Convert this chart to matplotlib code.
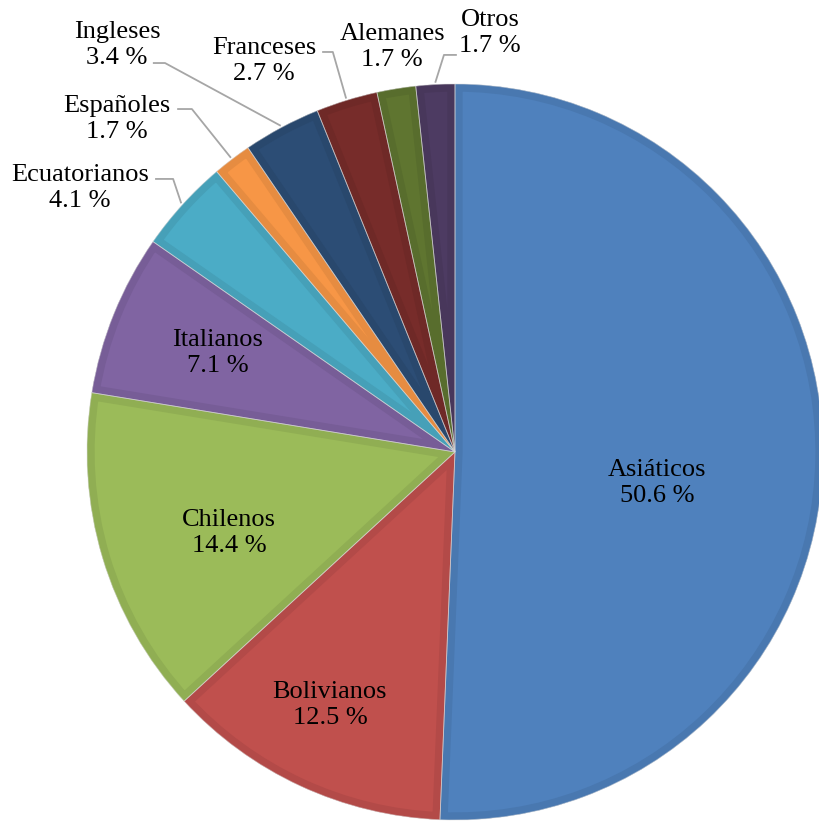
import matplotlib
matplotlib.use("Agg")
import matplotlib.pyplot as plt
from matplotlib.patches import Wedge
import matplotlib.colors as mcolors
import numpy as np

plt.rcParams["font.family"] = "serif"
plt.rcParams["font.serif"] = ["Liberation Serif", "DejaVu Serif"]

categories = ["Asiáticos", "Bolivianos", "Chilenos", "Italianos", "Ecuatorianos",
              "Españoles", "Ingleses", "Franceses", "Alemanes", "Otros"]
values = [50.6, 12.5, 14.4, 7.1, 4.1, 1.7, 3.4, 2.7, 1.7, 1.7]
colors = ["#4F81BD", "#C0504D", "#9BBB59", "#8064A2", "#4BACC6",
          "#F79646", "#2C4D75", "#772C2A", "#5F7530", "#4D3B62"]

# label positions (data units, pie radius = 1)
label_pos = {
    "Asiáticos": (0.549, -0.084),
    "Bolivianos": (-0.340, -0.688),
    "Chilenos": (-0.614, -0.220),
    "Italianos": (-0.644, 0.269),
    "Ecuatorianos": (-1.019, 0.718),
    "Españoles": (-0.918, 0.905),
    "Ingleses": (-0.918, 1.105),
    "Franceses": (-0.519, 1.062),
    "Alemanes": (-0.171, 1.100),
    "Otros": (0.095, 1.138),
}
# leader lines: start beside text, elbow, end on slice edge (computed)
leaders = {
    "Ecuatorianos": [(-0.815, 0.742), (-0.766, 0.742)],
    "Españoles": [(-0.755, 0.932), (-0.715, 0.932)],
    "Ingleses": [(-0.821, 1.057), (-0.788, 1.057)],
    "Franceses": [(-0.361, 1.087), (-0.332, 1.087)],
    "Otros": [(0.005, 1.079), (-0.030, 1.079)],
}

W, H = 820, 824
fig = plt.figure(figsize=(W / 100, H / 100), dpi=100)
ax = fig.add_axes([0, 0, 1, 1])
R = 368.0
cx, cy = 455.0, 452.0
ax.set_xlim(-cx / R, (W - cx) / R)
ax.set_ylim((cy - H) / R, cy / R)
ax.set_aspect("auto")
ax.axis("off")

def darker(c, f=0.93):
    r, g, b = mcolors.to_rgb(c)
    return (r * f, g * f, b * f)

total = sum(values)
theta = 90.0
mids = {}
for cat, v, c in zip(categories, values, colors):
    span = v / total * 360.0
    t1, t2 = theta - span, theta
    base = Wedge((0, 0), 1.0, t1, t2, facecolor=c, edgecolor="none", zorder=1)
    ax.add_patch(base)
    border = Wedge((0, 0), 1.0, t1, t2, fill=False, edgecolor=darker(c), lw=11,
                   joinstyle="miter", zorder=2)
    ax.add_patch(border)
    border.set_clip_path(base)
    sep = Wedge((0, 0), 1.0, t1, t2, fill=False, edgecolor="#D9D9D9", lw=0.6,
                alpha=0.6, zorder=3)
    ax.add_patch(sep)
    mids[cat] = np.deg2rad((t1 + t2) / 2)
    theta = t1

for cat, v in zip(categories, values):
    x, y = label_pos[cat]
    ax.text(x, y, f"{cat}\n{v:.1f} %", ha="center", va="center",
            linespacing=1.22, color="black", zorder=5, fontsize=19,
            family="Liberation Serif")

for cat, pts in leaders.items():
    a = mids[cat]
    end = (1.005 * np.cos(a), 1.005 * np.sin(a))
    xs = [pts[0][0], pts[1][0], end[0]]
    ys = [pts[0][1], pts[1][1], end[1]]
    ax.plot(xs, ys, color="#A6A6A6", lw=1.3, zorder=4, solid_capstyle="butt")

fig.savefig("out.png", dpi=100)
